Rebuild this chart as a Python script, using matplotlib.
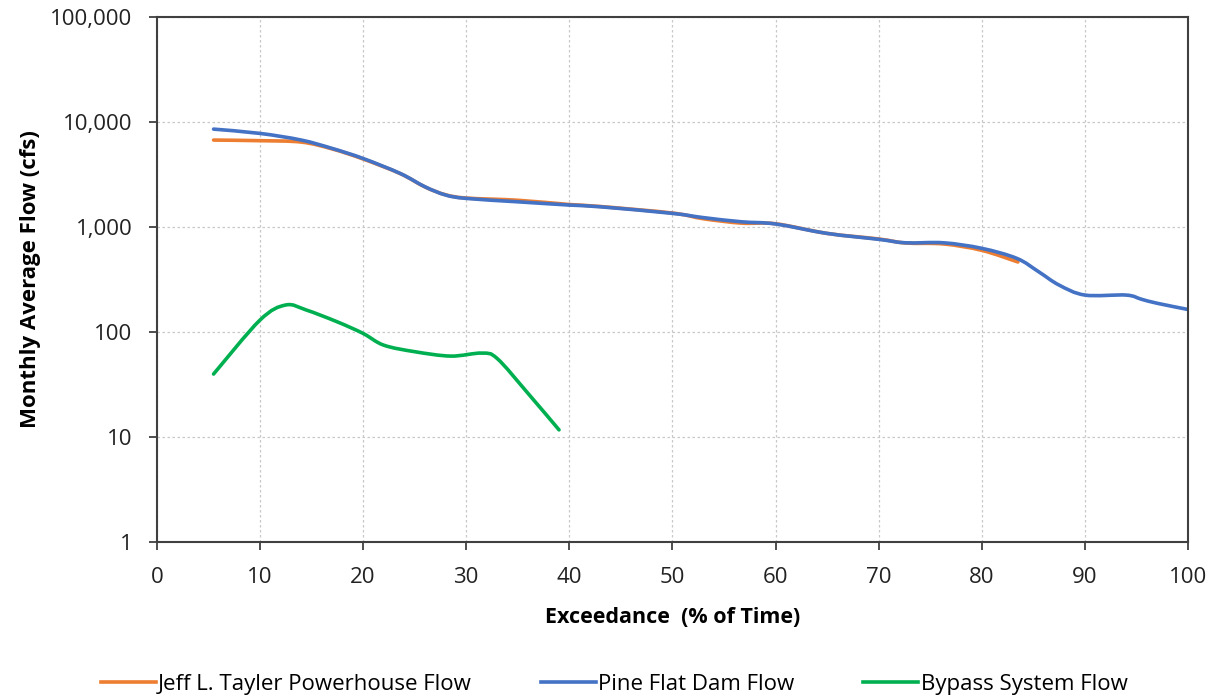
import matplotlib
matplotlib.use("Agg")
import numpy as np
import matplotlib.pyplot as plt
from matplotlib.path import Path
from matplotlib.patches import PathPatch
from matplotlib.lines import Line2D
from matplotlib.ticker import FixedLocator, FuncFormatter, NullLocator

plt.rcParams['font.family'] = ['Open Sans', 'DejaVu Sans']

# Pine Flat Dam Flow
pine_x = [5.5, 10, 14, 17, 20, 23.6, 26, 28, 30, 35, 40, 43, 50, 53, 56.7, 60, 65, 70,
          72.6, 76.3, 80, 83.4, 85.5, 87.5, 90, 94, 95.5, 97, 100]
pine_y = [8570, 7800, 6740, 5610, 4500, 3240, 2420, 2020, 1875, 1740, 1620, 1560, 1350,
          1230, 1122, 1070, 870, 764, 708, 708, 627, 503, 376, 280, 225, 225, 205, 188, 164]

# Jeff L. Tayler Powerhouse Flow
jeff_x = [5.5, 10, 14, 17, 20, 23.6, 26, 28, 30, 35, 40, 43, 50, 53, 56.7, 60, 65, 70,
          72.6, 76.3, 80, 83.5]
jeff_y = [6740, 6650, 6450, 5550, 4450, 3230, 2410, 2030, 1890, 1800, 1640, 1570, 1360,
          1200, 1090, 1075, 870, 770, 705, 690, 600, 465]

# Bypass System Flow
byp_x = [5.5, 10, 12.5, 14.5, 17.5, 20, 22, 25, 28.5, 31.5, 33, 36, 39]
byp_y = [39.8, 130, 181, 162, 125, 97, 75, 65, 59, 63, 56, 26, 11.7]

series_names = ['Jeff L. Tayler Powerhouse Flow', 'Pine Flat Dam Flow', 'Bypass System Flow']
series_colors = ['#ED7D31', '#4472C4', '#00B050']

y_ticks = [1, 10, 100, 1000, 10000, 100000]
x_ticks = [0, 10, 20, 30, 40, 50, 60, 70, 80, 90, 100]


def smooth_path(xs, ys):
    """Excel-style smoothed line: cubic Bezier segments through the data points
    (control points computed in log-y space)."""
    px = np.asarray(xs, float)
    py = np.log10(np.asarray(ys, float))
    n = len(px)
    verts = [(px[0], py[0])]
    codes = [Path.MOVETO]
    for i in range(n - 1):
        i0 = max(i - 1, 0)
        i3 = min(i + 2, n - 1)
        c1 = (px[i] + (px[i + 1] - px[i0]) / 6.0, py[i] + (py[i + 1] - py[i0]) / 6.0)
        c2 = (px[i + 1] - (px[i3] - px[i]) / 6.0, py[i + 1] - (py[i3] - py[i]) / 6.0)
        verts += [c1, c2, (px[i + 1], py[i + 1])]
        codes += [Path.CURVE4] * 3
    verts = [(vx, 10 ** vy) for vx, vy in verts]
    return Path(verts, codes)


fig = plt.figure(figsize=(12.16, 6.98), dpi=100)
ax = fig.add_axes([0.129, 0.2235, 0.848, 0.752])

ax.set_yscale('log')
ax.set_ylim(1, 100000)
ax.set_xlim(0, 100)

handles = []
for (xs, ys), name, col in zip([(jeff_x, jeff_y), (pine_x, pine_y), (byp_x, byp_y)],
                               series_names, series_colors):
    patch = PathPatch(smooth_path(xs, ys), facecolor='none', edgecolor=col, lw=2.6,
                      joinstyle='round', capstyle='round', transform=ax.transData)
    ax.add_patch(patch)
    handles.append(Line2D([], [], color=col, lw=2.6, label=name))

ax.yaxis.set_major_locator(FixedLocator(y_ticks))
ax.yaxis.set_minor_locator(NullLocator())
ax.yaxis.set_major_formatter(FuncFormatter(lambda v, p: f"{v:,.0f}"))
ax.xaxis.set_major_locator(FixedLocator(x_ticks))

ax.grid(True, which='major', color='#C8C8C8', linestyle=(0, (2, 2)), linewidth=0.9)
ax.set_axisbelow(True)
for s in ax.spines.values():
    s.set_color('#404040')
    s.set_linewidth(1.5)
ax.tick_params(axis='both', direction='out', length=6, width=1.3, color='#404040',
               labelsize=16, labelcolor='#222222')
ax.tick_params(axis='y', pad=11.5)
ax.tick_params(axis='x', pad=12)

ax.set_ylabel('Monthly Average Flow (cfs)', fontsize=16, fontweight='bold', labelpad=7)
ax.set_xlabel('Exceedance  (% of Time)', fontsize=15.5, fontweight='bold', labelpad=14)

fig.legend(handles=handles, loc='center', bbox_to_anchor=(0.505, 0.02), ncol=3,
           frameon=False, fontsize=16, handlelength=2.48, handletextpad=0.1,
           columnspacing=3.1, borderaxespad=0)

fig.savefig('out.png', dpi=100)
